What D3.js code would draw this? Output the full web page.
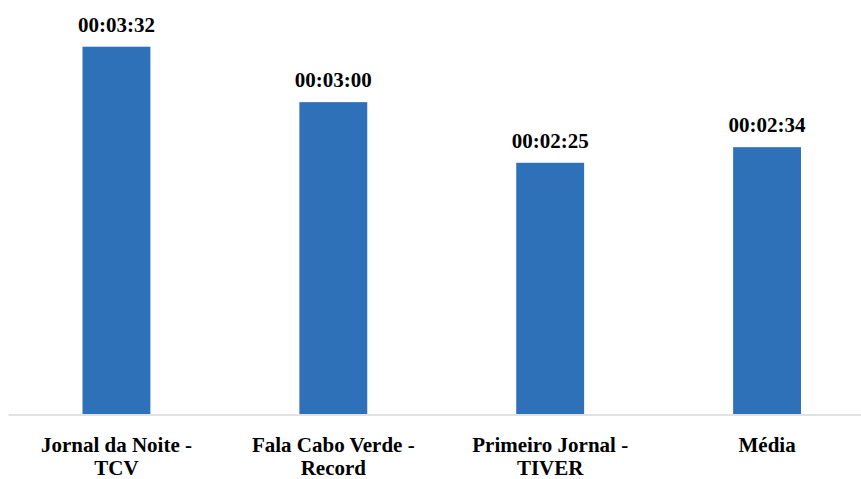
<!DOCTYPE html>
<html>
<head>
<meta charset="utf-8">
<script src="https://cdn.jsdelivr.net/npm/d3@7"></script>
</head>
<body style="margin:0">
<svg id="viz" width="861" height="479"></svg>
<script>
const categories = [["Jornal da Noite -", "TCV"], ["Fala Cabo Verde -", "Record"], ["Primeiro Jornal -", "TIVER"], ["Média"]];
const seconds = [212, 180, 145, 154];
const valueLabels = ["00:03:32", "00:03:00", "00:02:25", "00:02:34"];

const svg = d3.select("#viz");

const x = d3.scaleBand()
  .domain(categories.map((d, i) => i))
  .range([8, 875.5])
  .paddingInner(0.687)
  .paddingOuter(0.3435);

const y = d3.scaleLinear().domain([0, 212]).range([414, 46.7]);

// bars
svg.selectAll("rect.bar")
  .data(seconds)
  .join("rect")
  .attr("class", "bar")
  .attr("x", (d, i) => x(i))
  .attr("y", d => y(d))
  .attr("width", x.bandwidth())
  .attr("height", d => y(0) - y(d))
  .attr("fill", "#2e71b8");

// axis baseline
const axis = svg.append("g")
  .attr("transform", `translate(0,${y(0) + 0.5})`)
  .call(d3.axisBottom(x).tickSize(0).tickFormat(""));
axis.select(".domain").attr("stroke", "#d9d9d9").attr("stroke-width", 1.5);

// value labels
svg.selectAll("text.val")
  .data(seconds)
  .join("text")
  .attr("class", "val")
  .attr("x", (d, i) => x(i) + x.bandwidth() / 2)
  .attr("y", d => y(d) - 15)
  .attr("text-anchor", "middle")
  .attr("font-size", 21)
  .attr("font-weight", "bold")
  .style("font-family", () => `"Liberation Serif", monospace`)
  .attr("fill", "#000")
  .text((d, i) => valueLabels[i]);

// category labels
const cat = svg.selectAll("text.cat")
  .data(categories)
  .join("text")
  .attr("class", "cat")
  .attr("text-anchor", "middle")
  .attr("font-size", 21)
  .attr("font-weight", "bold")
  .style("font-family", () => `"Liberation Serif", monospace`)
  .attr("fill", "#000");
cat.each(function(lines, i) {
  const t = d3.select(this);
  lines.forEach((ln, j) => {
    t.append("tspan")
      .attr("x", x(i) + x.bandwidth() / 2)
      .attr("y", 452 + j * 22.5)
      .text(ln);
  });
});
</script>
</body>
</html>
